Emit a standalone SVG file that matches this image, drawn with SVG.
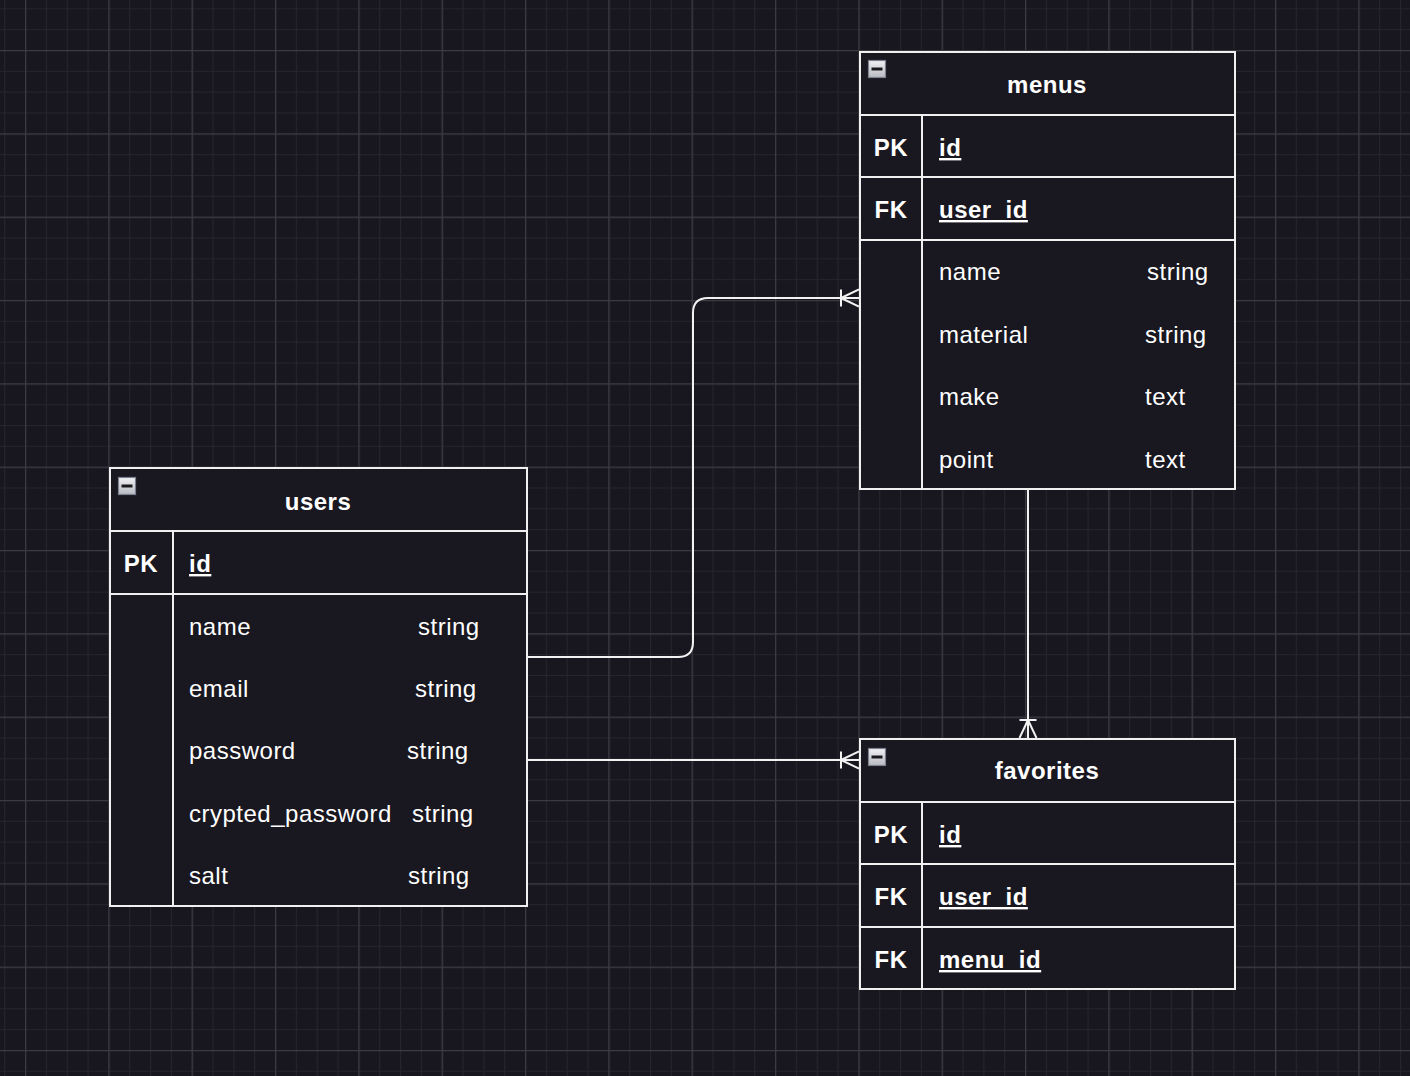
<svg xmlns="http://www.w3.org/2000/svg" width="1410" height="1076" viewBox="0 0 1410 1076">
<defs>
<pattern id="minor" x="4.17" y="8.33" width="20.833" height="20.833" patternUnits="userSpaceOnUse">
<path d="M0 0.5H20.833M0.5 0V20.833" fill="none" stroke="#26252c" stroke-width="1.2"/>
</pattern>
<pattern id="major" x="25" y="50" width="83.333" height="83.333" patternUnits="userSpaceOnUse">
<path d="M0 0.5H83.333M0.5 0V83.333" fill="none" stroke="#3b3a41" stroke-width="1.5"/>
</pattern>
<linearGradient id="btn" x1="0" y1="0" x2="0" y2="1">
<stop offset="0" stop-color="#f2f2f4"/>
<stop offset="1" stop-color="#b8bac2"/>
</linearGradient>
<g id="collapse">
<rect x="0.5" y="0.5" width="17" height="17" fill="url(#btn)" stroke="#7d8090" stroke-width="1.2"/>
<rect x="3.5" y="7.5" width="11" height="3" fill="#1a1a1e"/>
</g>
<marker id="crow" viewBox="0 0 20 20" refX="20" refY="10" markerWidth="20" markerHeight="20" markerUnits="userSpaceOnUse" orient="auto">
<path d="M2 10L20 1.5M2 10L20 18.5M2 10H20M2 1.5V18.5" fill="none" stroke="#f2f2f2" stroke-width="2"/>
</marker>
</defs>
<style>
.tbl{fill:#19171f;stroke:#f0f0f0;stroke-width:2}
.ln{stroke:#f0f0f0;stroke-width:2;fill:none}
text{font-family:"Liberation Sans",Arial,Helvetica,sans-serif;fill:#ffffff;font-size:24px;letter-spacing:0.5px}
.h{font-weight:bold;text-anchor:middle}
.k{font-weight:bold;text-anchor:middle}
.u{font-weight:bold;text-decoration:underline}
.conn{stroke:#f2f2f2;stroke-width:2;fill:none}
</style>
<rect width="1410" height="1076" fill="#18161e"/>
<rect width="1410" height="1076" fill="url(#minor)"/>
<rect width="1410" height="1076" fill="url(#major)"/>

<g id="connectors">
<path class="conn" d="M527 657H678Q693 657 693 642V313Q693 298 708 298H859" marker-end="url(#crow)"/>
<path class="conn" d="M527 760H859" marker-end="url(#crow)"/>
<path class="conn" d="M1028 489V738" marker-end="url(#crow)"/>
</g>

<g id="menus">
<rect class="tbl" x="860" y="52" width="375" height="437"/>
<path class="ln" d="M860 115H1235M860 177H1235M860 240H1235M922 115V489"/>
<use href="#collapse" x="868" y="60"/>
<text class="h" x="1047" y="93">menus</text>
<text class="k" x="891" y="156">PK</text>
<text class="u" x="939" y="156">id</text>
<text class="k" x="891" y="218">FK</text>
<text class="u" x="939" y="218">user_id</text>
<text x="939" y="280">name</text><text x="1147" y="280">string</text>
<text x="939" y="343">material</text><text x="1145" y="343">string</text>
<text x="939" y="405">make</text><text x="1145" y="405">text</text>
<text x="939" y="468">point</text><text x="1145" y="468">text</text>
</g>

<g id="users">
<rect class="tbl" x="110" y="468" width="417" height="438"/>
<path class="ln" d="M110 531H527M110 594H527M173 531V906"/>
<use href="#collapse" x="118" y="477"/>
<text class="h" x="318" y="510">users</text>
<text class="k" x="141" y="572">PK</text>
<text class="u" x="189" y="572">id</text>
<text x="189" y="635">name</text><text x="418" y="635">string</text>
<text x="189" y="697">email</text><text x="415" y="697">string</text>
<text x="189" y="759">password</text><text x="407" y="759">string</text>
<text x="189" y="822">crypted_password</text><text x="412" y="822">string</text>
<text x="189" y="884">salt</text><text x="408" y="884">string</text>
</g>

<g id="favorites">
<rect class="tbl" x="860" y="739" width="375" height="250"/>
<path class="ln" d="M860 802H1235M860 864H1235M860 927H1235M922 802V989"/>
<use href="#collapse" x="868" y="748"/>
<text class="h" x="1047" y="779">favorites</text>
<text class="k" x="891" y="843">PK</text>
<text class="u" x="939" y="843">id</text>
<text class="k" x="891" y="905">FK</text>
<text class="u" x="939" y="905">user_id</text>
<text class="k" x="891" y="968">FK</text>
<text class="u" x="939" y="968">menu_id</text>
</g>
</svg>
